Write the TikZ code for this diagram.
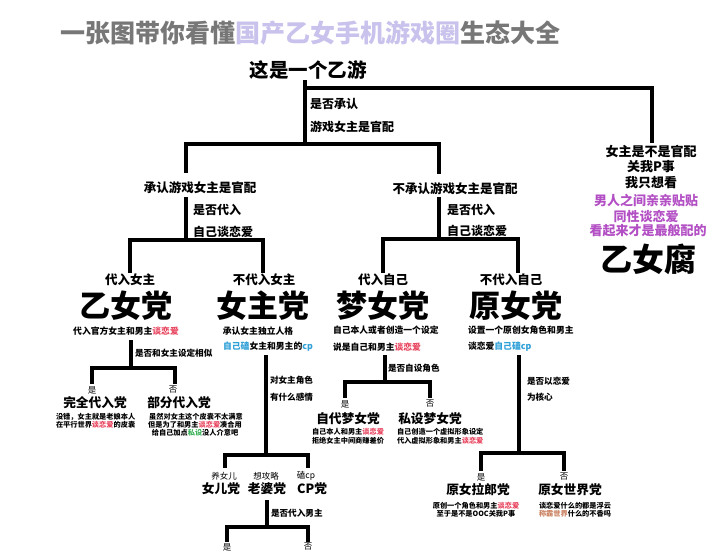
\documentclass[tikz,border=0pt]{standalone}
\usepackage{fontspec}
\setmainfont{Noto Sans CJK SC}
\definecolor{tgray}{HTML}{777777}
\definecolor{lav}{HTML}{C9C2EC}
\definecolor{lred}{HTML}{E8455F}
\definecolor{lblue}{HTML}{2FA0D8}
\definecolor{lpurp}{HTML}{B34FC4}
\definecolor{lgreen}{HTML}{3DB35A}
\definecolor{lbrown}{HTML}{C9805E}
\newcommand{\myfs}[1]{\fontsize{#1}{#1}\selectfont}
\tikzset{
  xln/.style={line width=3.3pt, line cap=rect},
  xt/.style={inner sep=0pt, outer sep=0pt},
  xttl/.style={xt, font=\bfseries\myfs{25}},
  xroot/.style={xt, font=\bfseries\myfs{19.5}},
  xcap/.style={xt, font=\bfseries\myfs{12.5}},
  xbig/.style={xt, font=\bfseries\myfs{31}},
  xdsc/.style={xt, font=\bfseries\myfs{8.8}},
  xlab/.style={xt, font=\bfseries\myfs{8.6}, anchor=west},
  xq/.style={xt, font=\bfseries\myfs{12}, anchor=west},
  xyn/.style={xt, font=\myfs{8.5}},
  xsub/.style={xt, font=\bfseries\myfs{12.7}},
  xtiny/.style={xt, font=\bfseries\myfs{7.2}},
  xrt/.style={xt, font=\bfseries\myfs{13}}
}
\begin{document}
\begin{tikzpicture}[x=1pt,y=-1pt]
\useasboundingbox (0,0) rectangle (720,552);
\fill[white] (0,0) rectangle (720,552);

% title
\node[xttl] (title) at (310,33) {{\color{tgray}一张图带你看懂}{\color{lav}国产乙女手机游戏圈}{\color{tgray}生态大全}};

% root
\node[xroot] (root) at (308,70) {这是一个乙游};
\coordinate (r0) at (305,82);
\coordinate (r1) at (305,88);
\coordinate (rj) at (305,144);
\coordinate (rr1) at (652,88);
\coordinate (rr2) at (652,141);
\coordinate (hl) at (186,144);
\coordinate (hr) at (439,144);
\draw[xln] (r0) -- (rj);
\draw[xln] (r1) -- (rr1) -- (rr2);
\draw[xln] (hl) -- (hr);
\node[xq] (q1a) at (310,104) {是否承认};
\node[xq] (q1b) at (310,127) {游戏女主是官配};

% right: otome fujoshi
\node[xrt] (f1) at (651,152) {女主是不是官配};
\node[xrt] (f2) at (651,167) {关我P事};
\node[xrt] (f3) at (651,183) {我只想看};
\node[xrt, text=lpurp] (f4) at (646,200) {男人之间亲亲贴贴};
\node[xrt, text=lpurp] (f5) at (646,216) {同性谈恋爱};
\node[xrt, text=lpurp] (f6) at (648,231) {看起来才是最般配的};
\node[xbig, font=\bfseries\myfs{32}] (f7) at (648,259) {乙女腐};

% left branch
\node[xcap] (b1) at (200,188) {承认游戏女主是官配};
\coordinate (b1t) at (186,171);
\coordinate (b1b) at (186,199);
\coordinate (b1j) at (186,240);
\coordinate (b1l) at (130,240);
\coordinate (b1r) at (263,240);
\coordinate (b1ld) at (130,271);
\coordinate (b1rd) at (263,271);
\draw[xln] (hl) -- (b1t);
\draw[xln] (b1b) -- (b1j);
\draw[xln] (b1l) -- (b1r);
\draw[xln] (b1l) -- (b1ld);
\draw[xln] (b1r) -- (b1rd);
\node[xq] (q2a) at (193,210) {是否代入};
\node[xq] (q2b) at (193,232) {自己谈恋爱};

% middle branch
\node[xcap] (b2) at (455,189) {不承认游戏女主是官配};
\coordinate (b2t) at (439,172);
\coordinate (b2b) at (439,199);
\coordinate (b2j) at (439,239);
\coordinate (b2l) at (383,239);
\coordinate (b2r) at (518,239);
\coordinate (b2ld) at (383,271);
\coordinate (b2rd) at (518,271);
\draw[xln] (hr) -- (b2t);
\draw[xln] (b2b) -- (b2j);
\draw[xln] (b2l) -- (b2r);
\draw[xln] (b2l) -- (b2ld);
\draw[xln] (b2r) -- (b2rd);
\node[xq] (q3a) at (447,210) {是否代入};
\node[xq] (q3b) at (447,231) {自己谈恋爱};

% four parties
\node[xcap] (c1) at (130,280) {代入女主};
\node[xbig] (p1) at (126,306) {乙女党};
\node[xdsc] (d1) at (126,331) {代入官方女主和男主{\color{lred}谈恋爱}};

\node[xcap] (c2) at (264,280) {不代入女主};
\node[xbig] (p2) at (263,306) {女主党};
\node[xdsc] (d2a) at (258,331) {承认女主独立人格};
\node[xdsc] (d2b) at (268,347) {{\color{lblue}自己磕}女主和男主的{\color{lblue}cp}};

\node[xcap] (c3) at (383,280) {代入自己};
\node[xbig] (p3) at (383,306) {梦女党};
\node[xdsc, anchor=west] (d3a) at (333,330) {自己本人或者创造一个设定};
\node[xdsc, anchor=west] (d3b) at (333,347) {说是自己和男主{\color{lred}谈恋爱}};

\node[xcap] (c4) at (511,280) {不代入自己};
\node[xbig] (p4) at (516,306) {原女党};
\node[xdsc, anchor=west] (d4a) at (468,330) {设置一个原创女角色和男主};
\node[xdsc, anchor=west] (d4b) at (468,347) {谈恋爱{\color{lblue}自己磕cp}};

% A: otome party
\coordinate (a0) at (131,342);
\coordinate (aj) at (131,368);
\coordinate (al) at (92,368);
\coordinate (ar) at (175,368);
\coordinate (ald) at (92,382);
\coordinate (ard) at (175,382);
\draw[xln] (a0) -- (aj);
\draw[xln] (al) -- (ar);
\draw[xln] (al) -- (ald);
\draw[xln] (ar) -- (ard);
\node[xlab] (qa) at (135,353) {是否和女主设定相似};
\node[xyn] (ya) at (92,390) {是};
\node[xyn] (na) at (173,390) {否};
\node[xsub] (s1) at (95,403) {完全代入党};
\node[xtiny, anchor=west] (s1a) at (56,417) {没错，女主就是老娘本人};
\node[xtiny, anchor=west] (s1b) at (56,425) {在平行世界{\color{lred}谈恋爱}的皮囊};
\node[xsub] (s2) at (179,403) {部分代入党};
\node[xtiny] (s2a) at (196,417) {虽然对女主这个皮囊不太满意};
\node[xtiny] (s2b) at (195,425) {但是为了和男主{\color{lred}谈恋爱}凑合用};
\node[xtiny] (s2c) at (195,433) {给自己加点{\color{lgreen}私设}没人介意吧};

% B: heroine party
\coordinate (bb0) at (266,357);
\coordinate (bbj) at (266,455);
\coordinate (bbl) at (225,455);
\coordinate (bbr) at (308,455);
\coordinate (bbld) at (225,466);
\coordinate (bbrd) at (308,466);
\draw[xln] (bb0) -- (bbj);
\draw[xln] (bbl) -- (bbr);
\draw[xln] (bbl) -- (bbld);
\draw[xln] (bbr) -- (bbrd);
\node[xlab] (qb1) at (270,380) {对女主角色};
\node[xlab] (qb2) at (270,397) {有什么感情};
\node[xyn] (lb1) at (224,476) {养女儿};
\node[xyn] (lb2) at (266,476) {想攻略};
\node[xyn] (lb3) at (306,476) {磕cp};
\node[xsub] (t1) at (221,489) {女儿党};
\node[xsub] (t2) at (267,489) {老婆党};
\node[xsub] (t3) at (312,489) {CP党};
\coordinate (e0) at (267,502);
\coordinate (ej) at (267,527);
\coordinate (el) at (227,527);
\coordinate (er) at (308,527);
\coordinate (eld) at (227,540);
\coordinate (erd) at (308,540);
\draw[xln] (e0) -- (ej);
\draw[xln] (el) -- (er);
\draw[xln] (el) -- (eld);
\draw[xln] (er) -- (erd);
\node[xlab] (qe) at (271,513) {是否代入男主};
\node[xyn] (ye) at (227,547) {是};
\node[xyn] (ne) at (308,547) {否};

% C: dream girl party
\coordinate (cc0) at (385,357);
\coordinate (ccj) at (385,382);
\coordinate (ccl) at (345,382);
\coordinate (ccr) at (430,382);
\coordinate (ccld) at (345,396);
\coordinate (ccrd) at (430,396);
\draw[xln] (cc0) -- (ccj);
\draw[xln] (ccl) -- (ccr);
\draw[xln] (ccl) -- (ccld);
\draw[xln] (ccr) -- (ccrd);
\node[xlab] (qc) at (388,368) {是否自设角色};
\node[xyn] (yc) at (345,404) {是};
\node[xyn] (nc) at (430,404) {否};
\node[xsub] (u1) at (348,419) {自代梦女党};
\node[xtiny, anchor=west] (u1a) at (312,432) {自己本人和男主{\color{lred}谈恋爱}};
\node[xtiny, anchor=west] (u1b) at (312,441) {拒绝女主中间商赚差价};
\node[xsub] (u2) at (430,419) {私设梦女党};
\node[xtiny, anchor=west] (u2a) at (397,432) {自己创造一个虚拟形象设定};
\node[xtiny, anchor=west] (u2b) at (397,441) {代入虚拟形象和男主{\color{lred}谈恋爱}};

% D: original girl party
\coordinate (dd0) at (519,357);
\coordinate (ddj) at (519,453);
\coordinate (ddl) at (481,453);
\coordinate (ddr) at (564,453);
\coordinate (ddld) at (481,469);
\coordinate (ddrd) at (564,469);
\draw[xln] (dd0) -- (ddj);
\draw[xln] (ddl) -- (ddr);
\draw[xln] (ddl) -- (ddld);
\draw[xln] (ddr) -- (ddrd);
\node[xlab] (qd1) at (527,381) {是否以恋爱};
\node[xlab] (qd2) at (527,397) {为核心};
\node[xyn] (yd) at (481,477) {是};
\node[xyn] (nd) at (564,477) {否};
\node[xsub] (v1) at (478,490) {原女拉郎党};
\node[xtiny] (v1a) at (476,506) {原创一个角色和男主{\color{lred}谈恋爱}};
\node[xtiny] (v1b) at (476,514) {至于是不是OOC关我P事};
\node[xsub] (v2) at (570,490) {原女世界党};
\node[xtiny] (v2a) at (575,506) {谈恋爱什么的都是浮云};
\node[xtiny] (v2b) at (575,514) {{\color{lbrown}称霸世界}什么的不香吗};
\end{tikzpicture}
\end{document}
